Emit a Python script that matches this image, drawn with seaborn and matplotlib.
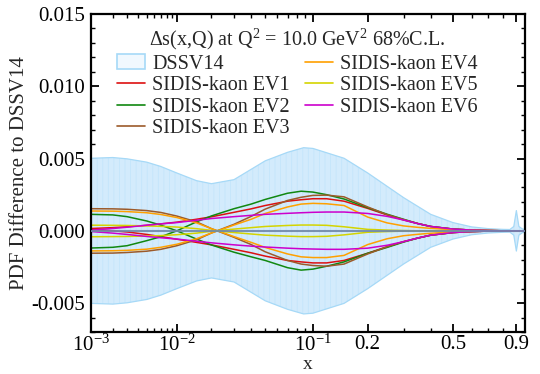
import numpy as np
import matplotlib
matplotlib.use("Agg")
import matplotlib.pyplot as plt
import seaborn as sns
from matplotlib.lines import Line2D
from matplotlib.patches import Patch
from matplotlib.ticker import FixedLocator, FixedFormatter, NullFormatter

# values below are in units of 1e-3
SCALE = 1e-3

# DSSV14 uncertainty band
x_band = [0.001, 0.002, 0.003, 0.005, 0.007, 0.01, 0.015, 0.02, 0.03, 0.05, 0.07, 0.088,
          0.1, 0.15, 0.2, 0.3, 0.4, 0.5, 0.6, 0.7, 0.8, 0.85, 0.88, 0.9, 0.92, 0.95, 0.97]
band_hi = [5.02, 5.07, 4.98, 4.75, 4.45, 4.0, 3.47, 3.26, 3.54, 4.84, 5.43, 5.75,
           5.7, 5.02, 4.0, 2.3, 1.14, 0.57, 0.27, 0.15, 0.1, 0.09, 0.3, 1.4, 0.3, 0.12, 0.1]
band_lo = [-5.02, -5.07, -4.98, -4.75, -4.45, -4.0, -3.47, -3.26, -3.54, -4.84, -5.43, -5.75,
           -5.7, -5.02, -4.0, -2.3, -1.14, -0.57, -0.27, -0.15, -0.1, -0.09, -0.3, -1.4, -0.3, -0.12, -0.1]

# SIDIS-kaon eigenvector curves (two per eigenvector)
x_ev = [0.001, 0.002, 0.003, 0.005, 0.007, 0.01, 0.015, 0.02, 0.03, 0.04, 0.05, 0.07, 0.085,
        0.1, 0.12, 0.15, 0.2, 0.25, 0.3, 0.35, 0.4, 0.5, 0.6, 0.7, 0.8, 0.9, 0.97]
ev1_a = [0.16, 0.22, 0.28, 0.38, 0.48, 0.60, 0.80, 0.97, 1.28, 1.52, 1.75, 2.05, 2.15,
         2.22, 2.22, 2.05, 1.55, 1.10, 0.75, 0.50, 0.30, 0.12, 0.05, 0.02, 0, 0, 0]
ev1_b = [0.08, 0.0, -0.08, -0.25, -0.40, -0.58, -0.80, -0.97, -1.28, -1.52, -1.75, -2.05, -2.15,
         -2.22, -2.22, -2.05, -1.55, -1.10, -0.75, -0.50, -0.30, -0.12, -0.05, -0.02, 0, 0, 0]
ev2_a = [1.14, 1.10, 0.98, 0.68, 0.39, 0.0, -0.57, -0.98, -1.48, -1.80, -2.05, -2.55, -2.72,
         -2.65, -2.45, -2.15, -1.55, -1.15, -0.78, -0.50, -0.30, -0.12, -0.05, -0.02, 0, 0, 0]
ev2_b = [-1.19, -1.14, -1.03, -0.68, -0.41, 0.0, 0.62, 1.03, 1.53, 1.85, 2.17, 2.60, 2.74,
         2.68, 2.50, 2.20, 1.60, 1.15, 0.80, 0.50, 0.30, 0.12, 0.05, 0.02, 0, 0, 0]
ev3_a = [1.53, 1.52, 1.49, 1.40, 1.27, 1.02, 0.62, 0.15, -0.45, -0.95, -1.45, -2.05, -2.30,
         -2.40, -2.45, -2.30, -1.60, -1.10, -0.75, -0.50, -0.30, -0.12, -0.05, -0.02, 0, 0, 0]
ev3_b = [-1.55, -1.54, -1.50, -1.41, -1.28, -1.03, -0.62, -0.15, 0.45, 1.00, 1.50, 2.10, 2.32,
         2.45, 2.47, 2.35, 1.65, 1.12, 0.78, 0.50, 0.30, 0.12, 0.05, 0.02, 0, 0, 0]
ev4_a = [1.37, 1.36, 1.33, 1.25, 1.13, 0.92, 0.55, 0.15, -0.40, -0.80, -1.15, -1.60, -1.80,
         -1.85, -1.85, -1.70, -0.95, -0.55, -0.34, -0.24, -0.17, -0.08, -0.04, -0.02, 0, 0, 0]
ev4_b = [-1.39, -1.38, -1.35, -1.27, -1.14, -0.93, -0.55, -0.15, 0.40, 0.80, 1.20, 1.65, 1.85,
         1.90, 1.87, 1.75, 0.95, 0.55, 0.34, 0.24, 0.17, 0.08, 0.04, 0.02, 0, 0, 0]
ev5_a = [0.39, 0.38, 0.37, 0.34, 0.31, 0.26, 0.15, 0.03, -0.12, -0.22, -0.30, -0.37, -0.40,
         -0.40, -0.38, -0.28, -0.10, -0.05, -0.02, 0, 0, 0, 0, 0, 0, 0, 0]
ev5_b = [-0.41, -0.40, -0.39, -0.36, -0.33, -0.27, -0.16, -0.03, 0.12, 0.22, 0.30, 0.37, 0.40,
         0.40, 0.38, 0.28, 0.10, 0.05, 0.02, 0, 0, 0, 0, 0, 0, 0, 0]
ev6_a = [0.05, 0.16, 0.25, 0.39, 0.48, 0.57, 0.73, 0.85, 0.98, 1.07, 1.14, 1.21, 1.25,
         1.28, 1.30, 1.30, 1.20, 1.00, 0.75, 0.50, 0.30, 0.12, 0.05, 0.02, 0, 0, 0]
ev6_b = [-0.05, -0.16, -0.25, -0.39, -0.48, -0.57, -0.72, -0.83, -0.97, -1.06, -1.12, -1.20, -1.24,
         -1.26, -1.28, -1.28, -1.20, -1.00, -0.75, -0.50, -0.30, -0.12, -0.05, -0.02, 0, 0, 0]

ev_names = ["SIDIS-kaon EV1", "SIDIS-kaon EV2", "SIDIS-kaon EV3",
            "SIDIS-kaon EV4", "SIDIS-kaon EV5", "SIDIS-kaon EV6"]
ev_colors = ["#dd1111", "#118811", "#9c5a2a", "#ffa000", "#d4d400", "#cc00cc"]
ev_curves = [(ev1_a, ev1_b), (ev2_a, ev2_b), (ev3_a, ev3_b),
             (ev4_a, ev4_b), (ev5_a, ev5_b), (ev6_a, ev6_b)]

sns.set_theme(style="ticks")
plt.rcParams['font.family'] = ['Liberation Serif', 'DejaVu Serif']
plt.rcParams['mathtext.fontset'] = 'custom'
plt.rcParams['mathtext.rm'] = 'Liberation Serif'
plt.rcParams['mathtext.it'] = 'Liberation Serif:italic'
plt.rcParams['axes.unicode_minus'] = False
plt.rcParams['hatch.linewidth'] = 0.6

fig = plt.figure(figsize=(5.4, 3.74), dpi=100)
ax = fig.add_axes([91/540, 1 - 332/374, (525 - 91)/540, (332 - 14)/374])

xb = np.array(x_band)
ax.fill_between(xb, np.array(band_lo) * SCALE, np.array(band_hi) * SCALE,
                facecolor="#d3ebfc", edgecolor="#c4e5fb", hatch="|||", linewidth=0, zorder=1)
ax.plot(xb, np.array(band_hi) * SCALE, color="#a6d9f7", lw=0.9, zorder=1.5)
ax.plot(xb, np.array(band_lo) * SCALE, color="#a6d9f7", lw=0.9, zorder=1.5)

for (ya, yb), c in zip(ev_curves, ev_colors):
    sns.lineplot(x=x_ev, y=np.array(ya) * SCALE, color=c, lw=1.1, ax=ax, legend=False, zorder=2)
    sns.lineplot(x=x_ev, y=np.array(yb) * SCALE, color=c, lw=1.1, ax=ax, legend=False, zorder=2)

# DSSV14 central
ax.plot([0.001, 0.97], [0, 0], color="#7088aa", lw=1.5, alpha=0.9, zorder=3)

ax.set_xscale('function', functions=(lambda v: np.power(np.clip(v, 1e-12, None), 0.2),
                                     lambda v: np.power(v, 5)))
ax.set_xlim(0.001, 0.97)
ax.set_ylim(-0.007, 0.015)

xmaj = [1e-3, 1e-2, 0.1, 0.2, 0.5, 0.9]
xlab = [r'$10^{-3}$', r'$10^{-2}$', r'$10^{-1}$', '0.2', '0.5', '0.9']
xmin = [0.002, 0.003, 0.004, 0.005, 0.006, 0.007, 0.008, 0.009,
        0.02, 0.03, 0.04, 0.05, 0.06, 0.07, 0.08, 0.09, 0.3, 0.4, 0.6, 0.7, 0.8]
ax.xaxis.set_major_locator(FixedLocator(xmaj))
ax.xaxis.set_major_formatter(FixedFormatter(xlab))
ax.xaxis.set_minor_locator(FixedLocator(xmin))
ax.xaxis.set_minor_formatter(NullFormatter())

ymaj = [-0.005, 0.0, 0.005, 0.010, 0.015]
ax.yaxis.set_major_locator(FixedLocator(ymaj))
ax.yaxis.set_major_formatter(FixedFormatter(["%.3f" % v for v in ymaj]))
ax.yaxis.set_minor_locator(FixedLocator(np.arange(-7, 16) * 0.001))

ax.tick_params(which='both', direction='in', top=True, right=True, colors='black')
ax.tick_params(which='major', length=6, width=1.3, labelsize=15, pad=4)
ax.tick_params(axis='x', which='major', pad=2)
ax.tick_params(which='minor', length=3, width=1.0)
for s in ax.spines.values():
    s.set_linewidth(1.6)
    s.set_color('black')

ax.set_xlabel('x', fontsize=14, labelpad=0)
ax.set_ylabel('PDF Difference to DSSV14', fontsize=15, labelpad=2)

handles = [Patch(facecolor="#f0f8fe", edgecolor="#a6d9f7", lw=1.2)]
handles += [Line2D([], [], color=c, lw=1.2) for c in ev_colors]
labels = ["DSSV14"] + ev_names
leg = ax.legend(handles, labels, ncol=2, loc='upper center', bbox_to_anchor=(0.476, 0.985),
                frameon=False, fontsize=14.5, handlelength=1.4, handletextpad=0.35,
                columnspacing=0.75, labelspacing=0.12, borderaxespad=0,
                title=r"$\Delta$s(x,Q) at Q$^2$ = 10.0 GeV$^2$ 68%C.L.",
                title_fontsize=14.5)

fig.savefig("out.png", dpi=100)
